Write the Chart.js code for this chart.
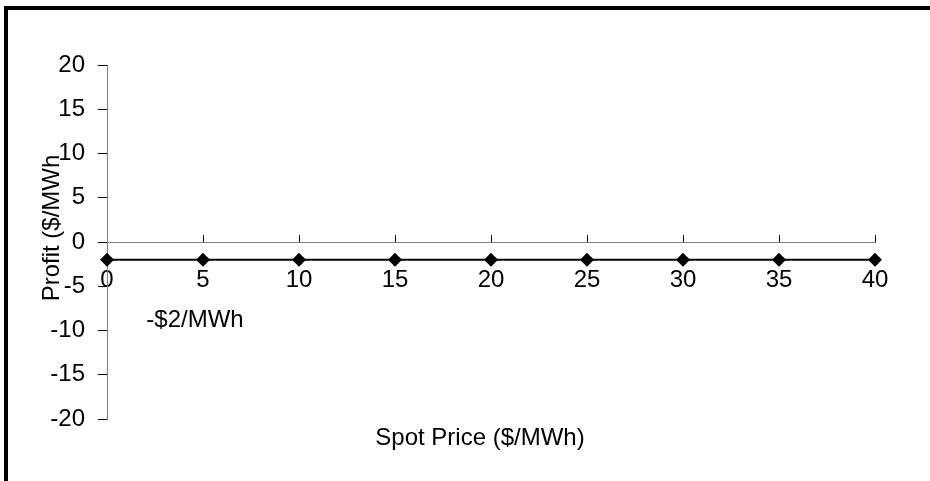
<!DOCTYPE html>
<html>
<head>
<meta charset="utf-8">
<script src="https://cdn.jsdelivr.net/npm/chart.js@4.4.1/dist/chart.umd.min.js"></script>
<style>
  body { margin: 0; background: #fff; }
  #wrap { position: absolute; left: 0; top: 0; width: 930px; height: 481px; }
  #frame { position: absolute; left: 4px; top: 6px; width: 940px; height: 500px;
           border-left: 4px solid #000; border-top: 4px solid #000; pointer-events: none; }
</style>
</head>
<body>
<div id="wrap"><canvas id="grafico"></canvas></div>
<div id="frame"></div>
<script>
// dados
const precoSpot = [0, 5, 10, 15, 20, 25, 30, 35, 40];
const lucro = [-2, -2, -2, -2, -2, -2, -2, -2, -2];
const ticksY = [-20, -15, -10, -5, 0, 5, 10, 15, 20];
const rotuloNota = "-$2/MWh";
const tituloX = "Spot Price ($/MWh)";
const tituloY = "Profit ($/MWh";

const FONTE = "'Liberation Sans', Arial, sans-serif";

// textos livres: títulos dos eixos e a nota
const textos = {
    id: "textos",
    afterDraw(chart) {
        const ctx = chart.ctx, x = chart.scales.x, y = chart.scales.y;
        ctx.save();
        ctx.fillStyle = "#000";
        ctx.font = "24px " + FONTE;
        ctx.textBaseline = "middle";
        ctx.textAlign = "left";
        ctx.fillText(rotuloNota, x.getPixelForValue(2.05), y.getPixelForValue(-8.8));
        ctx.textAlign = "center";
        ctx.fillText(tituloX, 480, 438);
        ctx.translate(52, 228);
        ctx.rotate(-Math.PI / 2);
        ctx.fillText(tituloY, 0, 0);
        ctx.restore();
    }
};

new Chart(document.getElementById("grafico"), {
    type: "line",
    data: {
        datasets: [{
            data: precoSpot.map((p, i) => ({ x: p, y: lucro[i] })),
            borderColor: "#000", backgroundColor: "#000",
            borderWidth: 2, pointStyle: "rectRot", pointRadius: 7,
            pointBorderWidth: 0, clip: false, tension: 0
        }]
    },
    options: {
        responsive: true, maintainAspectRatio: false, animation: false,
        layout: { padding: { left: 0, top: 65, right: 55, bottom: 62 } },
        plugins: { legend: { display: false }, tooltip: { enabled: false } },
        scales: {
            x: {
                type: "linear", position: { y: 0 }, min: 0, max: 40,
                grid: { drawOnChartArea: false, drawTicks: true, tickLength: -8, color: "#000" },
                border: { color: "#808080", width: 1 },
                ticks: { stepSize: 5, padding: 32, color: "#000", maxRotation: 0,
                         font: { family: FONTE, size: 24 } }
            },
            y: {
                min: -20, max: 20,
                afterBuildTicks: s => { s.ticks = ticksY.map(v => ({ value: v })); },
                afterFit: s => { s.width = 107; },
                grid: { drawOnChartArea: false, drawTicks: true, tickLength: 9, color: "#000" },
                border: { color: "#808080", width: 1 },
                ticks: { padding: 13, color: "#000", font: { family: FONTE, size: 24 } }
            }
        }
    },
    plugins: [textos]
});
</script>
</body>
</html>
